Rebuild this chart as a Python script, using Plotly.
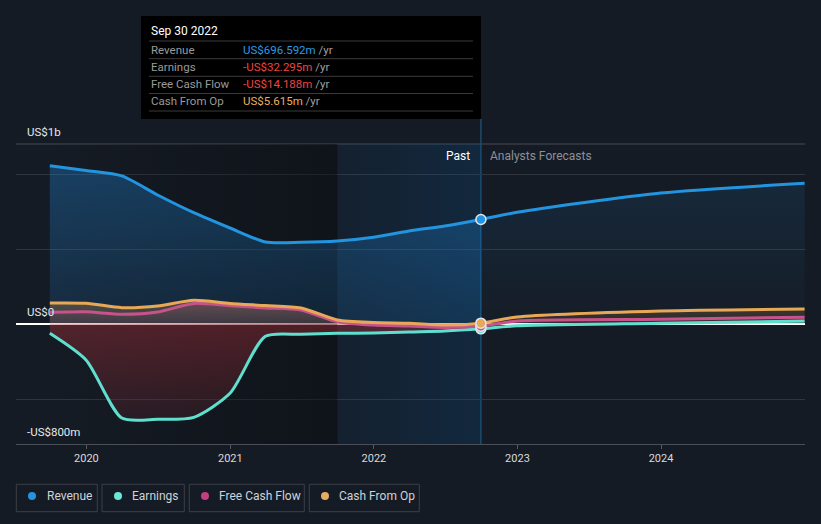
import plotly.graph_objects as go

# ---------------- data (values in US$ billions) ----------------
past_dates = ["2019-09-30", "2019-12-31", "2020-03-31", "2020-06-30", "2020-09-30",
              "2020-12-31", "2021-03-31", "2021-06-30", "2021-09-30", "2021-12-31",
              "2022-03-31", "2022-06-30", "2022-09-30"]
fc_dates = ["2022-09-30", "2022-12-31", "2023-12-31", "2024-12-31"]

revenue_past = [1.055, 1.023, 0.987, 0.860, 0.742, 0.640, 0.547, 0.545, 0.553, 0.578, 0.620, 0.653, 0.6966]
revenue_fc = [0.6966, 0.745, 0.873, 0.938]
earnings_past = [-0.062, -0.240, -0.627, -0.635, -0.622, -0.462, -0.082, -0.069, -0.062, -0.060, -0.053, -0.047, -0.0323]
earnings_fc = [-0.0323, -0.012, 0.005, 0.020]
fcf_past = [0.078, 0.082, 0.065, 0.080, 0.137, 0.122, 0.107, 0.093, 0.015, -0.007, -0.013, -0.023, -0.0142]
fcf_fc = [-0.0142, 0.020, 0.031, 0.045]
cfo_past = [0.140, 0.138, 0.109, 0.120, 0.158, 0.137, 0.123, 0.107, 0.027, 0.010, 0.005, -0.007, 0.0056]
cfo_fc = [0.0056, 0.047, 0.087, 0.100]

series_names = ["Revenue", "Earnings", "Free Cash Flow", "Cash From Op"]
series_colors = ["#2394df", "#5fe0cf", "#c9528b", "#e8a857"]
legend_dot_colors = ["#2394df", "#6ee6d5", "#c2407f", "#e5ad62"]
tooltip_title = "Sep 30 2022"
tooltip_values = ["US$696.592m", "-US$32.295m", "-US$14.188m", "US$5.615m"]
tooltip_value_colors = ["#2b9be6", "#ee4540", "#ee4540", "#e8b060"]
x_tick_vals = ["2020-01-01", "2021-01-01", "2022-01-01", "2023-01-01", "2024-01-01"]
x_tick_text = ["2020", "2021", "2022", "2023", "2024"]
y_labels = ["US$1b", "US$0", "-US$800m"]

FONT = "Roboto, 'Open Sans', sans-serif"
W, H = 821, 524
L, R, T, B = 16, 16, 144, 80


def px(x):
    return (x - L) / (W - L - R)


def py(y):
    return (H - B - y) / (H - T - B)


def grad(rgb, a0, a1, start, stop):
    r, g, b = rgb
    return dict(type="vertical", start=start, stop=stop,
                colorscale=[[0, f"rgba({r},{g},{b},{a0})"], [1, f"rgba({r},{g},{b},{a1})"]])


fig = go.Figure()

# ---------------- background highlight regions ----------------
fig.add_trace(go.Scatter(
    x=[past_dates[0], past_dates[8], past_dates[8], past_dates[0], past_dates[0]],
    y=[-0.8, -0.8, 1.2, 1.2, -0.8], mode="lines", line=dict(width=0),
    fill="toself",
    fillgradient=dict(type="horizontal",
                      colorscale=[[0, "rgba(8,10,13,0.0)"], [1, "rgba(8,10,13,0.45)"]]),
    hoverinfo="skip"))
fig.add_trace(go.Scatter(
    x=[past_dates[8], past_dates[12], past_dates[12], past_dates[8], past_dates[8]],
    y=[-0.8, -0.8, 1.2, 1.2, -0.8], mode="lines", line=dict(width=0),
    fill="toself",
    fillgradient=dict(type="horizontal",
                      colorscale=[[0, "rgba(10,80,140,0.10)"], [1, "rgba(10,80,140,0.25)"]]),
    hoverinfo="skip"))

# ---------------- fills ----------------
SM = 0.7
fills = [
    (past_dates, revenue_past, grad((33, 150, 243), 0.12, 0.30, 0, 1.06)),
    (fc_dates, revenue_fc, grad((33, 150, 243), 0.01, 0.11, 0, 0.94)),
    (past_dates, earnings_past, grad((190, 50, 60), 0.12, 0.36, -0.64, 0)),
    (fc_dates, earnings_fc, grad((94, 224, 207), 0.05, 0.15, -0.03, 0.02)),
    (past_dates, cfo_past, grad((232, 168, 87), 0.12, 0.28, 0, 0.16)),
    (fc_dates, cfo_fc, grad((232, 168, 87), 0.08, 0.18, 0, 0.10)),
    (past_dates, fcf_past, grad((200, 82, 138), 0.08, 0.18, 0, 0.14)),
    (fc_dates, fcf_fc, grad((200, 82, 138), 0.06, 0.14, 0, 0.05)),
]
for xs, ys, fg in fills:
    fig.add_trace(go.Scatter(x=xs, y=ys, mode="lines", line=dict(width=0, shape="spline", smoothing=SM),
                             fill="tozeroy", fillgradient=fg, hoverinfo="skip"))

# ---------------- lines ----------------
all_dates = past_dates + fc_dates[1:]
line_data = [revenue_past + revenue_fc[1:], earnings_past + earnings_fc[1:],
             fcf_past + fcf_fc[1:], cfo_past + cfo_fc[1:]]
for name, ys, col in zip(series_names, line_data, series_colors):
    fig.add_trace(go.Scatter(x=all_dates, y=ys, mode="lines", name=name,
                             line=dict(color=col, width=3, shape="spline", smoothing=SM),
                             hoverinfo="skip"))

# hover markers at Sep 30 2022
for ys, col in zip([revenue_past, earnings_past, fcf_past, cfo_past], series_colors):
    fig.add_trace(go.Scatter(x=[past_dates[-1]], y=[ys[-1]], mode="markers",
                             marker=dict(size=10, color=col, line=dict(color="#dfe6ee", width=1.5)),
                             hoverinfo="skip"))

shapes = []
annotations = []

# top gridline
shapes.append(dict(type="line", xref="paper", yref="paper", x0=0, x1=1, y0=1, y1=1,
                   line=dict(color="#474b52", width=1), layer="below"))
# hover vertical line
shapes.append(dict(type="line", xref="x", yref="paper", x0=past_dates[-1], x1=past_dates[-1],
                   y0=0, y1=py(119), line=dict(color="#1f4a6c", width=1.5), layer="below"))

# y labels
for lab, yy in zip(y_labels, [132, 312, 432]):
    annotations.append(dict(text=lab, xref="paper", yref="paper", x=px(25), y=py(yy),
                            xanchor="left", yanchor="middle", showarrow=False,
                            font=dict(family=FONT, size=11.5, color="#e6e8ea")))

# Past / Analysts Forecasts
annotations.append(dict(text="Past", xref="paper", yref="paper", x=px(472), y=py(156),
                        xanchor="right", yanchor="middle", showarrow=False,
                        font=dict(family=FONT, size=12, color="#ffffff")))
annotations.append(dict(text="Analysts Forecasts", xref="paper", yref="paper", x=px(488), y=py(156),
                        xanchor="left", yanchor="middle", showarrow=False,
                        font=dict(family=FONT, size=12, color="#8c9199")))

# tooltip
shapes.append(dict(type="rect", xref="paper", yref="paper", x0=px(141), x1=px(481),
                   y0=py(16), y1=py(119), fillcolor="#000000", line=dict(width=0), layer="above"))
annotations.append(dict(text=tooltip_title, xref="paper", yref="paper", x=px(149), y=py(31),
                        xanchor="left", yanchor="middle", showarrow=False,
                        font=dict(family=FONT, size=12, color="#ffffff")))
for yy in [41, 58.7, 76.3, 93.5, 111]:
    shapes.append(dict(type="line", xref="paper", yref="paper", x0=px(149), x1=px(473),
                       y0=py(yy), y1=py(yy), line=dict(color="#3a3a3a", width=1), layer="above"))
for i, (nm, val, vc) in enumerate(zip(series_names, tooltip_values, tooltip_value_colors)):
    yy = 49.5 + i * 17.3
    annotations.append(dict(text=nm, xref="paper", yref="paper", x=px(149), y=py(yy),
                            xanchor="left", yanchor="middle", showarrow=False,
                            font=dict(family=FONT, size=11.5, color="#9a9a9a")))
    annotations.append(dict(text=f"<span style='color:{vc}'>{val}</span> /yr", xref="paper", yref="paper",
                            x=px(241), y=py(yy), xanchor="left", yanchor="middle", showarrow=False,
                            font=dict(family=FONT, size=11.5, color="#a0a0a0")))

# custom legend
boxes = [(16.3, 97.3), (102, 184.3), (189.3, 304.3), (309.3, 419.3)]
dots_x = [32, 118, 205, 325]
text_x = [44.5, 130, 217, 337]
for (bx0, bx1), dx, tx, nm, dc in zip(boxes, dots_x, text_x, series_names, legend_dot_colors):
    shapes.append(dict(type="rect", xref="paper", yref="paper", x0=px(bx0), x1=px(bx1),
                       y0=py(484.3), y1=py(511.7), fillcolor="rgba(0,0,0,0)",
                       line=dict(color="#3b4048", width=1)))
    shapes.append(dict(type="circle", xref="paper", yref="paper", x0=px(dx - 4), x1=px(dx + 4),
                       y0=py(500), y1=py(492), fillcolor=dc, line=dict(width=0)))
    annotations.append(dict(text=nm, xref="paper", yref="paper", x=px(tx), y=py(496),
                            xanchor="left", yanchor="middle", showarrow=False,
                            font=dict(family=FONT, size=12, color="#cfd3d8")))

fig.update_layout(
    width=W, height=H, margin=dict(l=L, r=R, t=T, b=B),
    paper_bgcolor="#151b24", plot_bgcolor="#151b24",
    showlegend=False, hovermode=False,
    font=dict(family=FONT),
    shapes=shapes, annotations=annotations,
    xaxis=dict(type="date", range=["2019-07-06", "2025-01-01"], showgrid=False,
               tickvals=x_tick_vals, ticktext=x_tick_text, ticks="outside", ticklen=4,
               tickcolor="#555a62", tickfont=dict(family=FONT, size=11, color="#d8dadd"),
               showline=True, linecolor="#4a4f57", linewidth=1, zeroline=False, fixedrange=True),
    yaxis=dict(range=[-0.8, 1.2], tickvals=[-0.5, 0.5, 1.0], showticklabels=False,
               showgrid=True, gridcolor="#30353d", gridwidth=1,
               zeroline=True, zerolinecolor="#ffffff", zerolinewidth=1.5, fixedrange=True),
)

fig.write_html("out.html")
